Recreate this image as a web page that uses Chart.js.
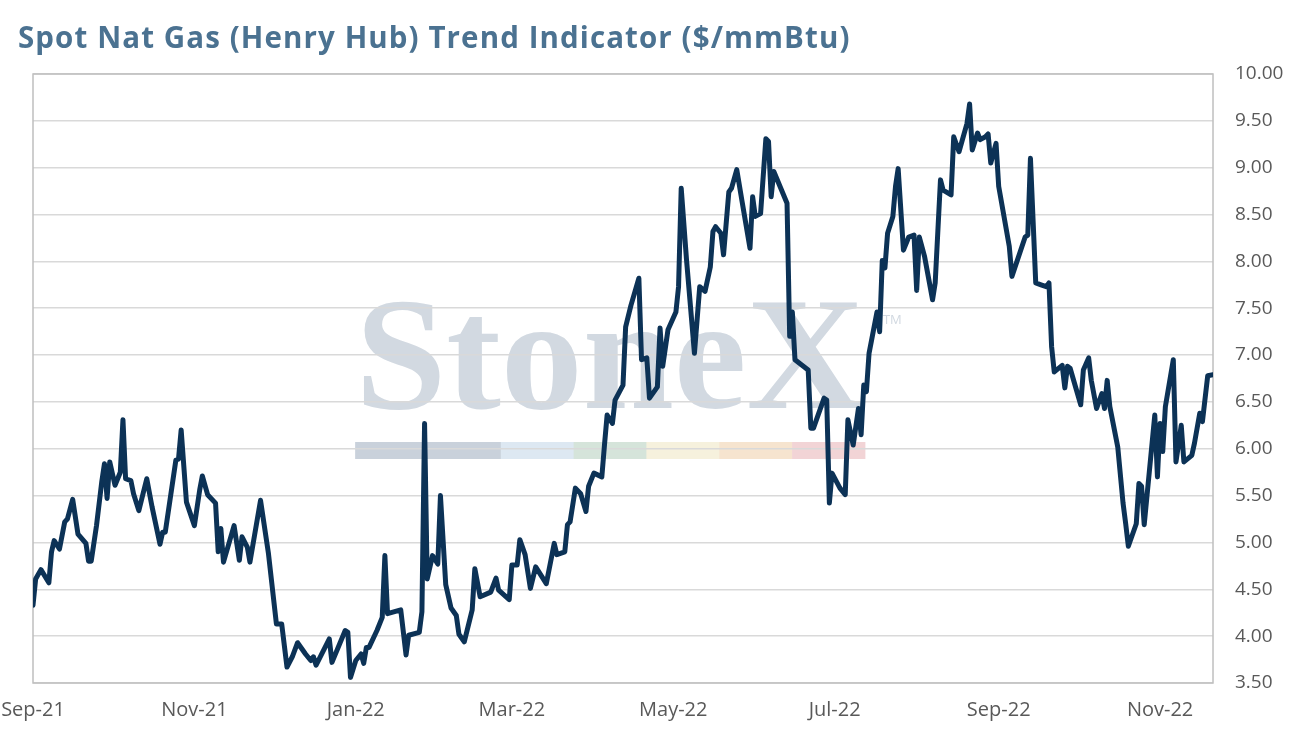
<!DOCTYPE html>
<html>
<head>
<meta charset="utf-8">
<script src="https://cdn.jsdelivr.net/npm/chart.js@4.4.1/dist/chart.umd.min.js"></script>
<style>
  body { margin: 0; background: #fff; }
  #wrap { position: relative; width: 1292px; height: 742px; }
  #title { position: absolute; left: 18px; top: 16px; font: bold 29.5px "Open Sans", sans-serif; letter-spacing: 1.1px; color: #4b7291; white-space: nowrap; }
</style>
</head>
<body>
<div id="wrap">
  <div id="title">Spot Nat Gas (Henry Hub) Trend Indicator ($/mmBtu)</div>
  <canvas id="chart" width="1292" height="742"></canvas>
</div>
<script>

// days counted from 1 Sep 2021, spot price in $/mmBtu
var days = [0,1,3,6,7,8,10,12,13,15,17,20,21,22,24,26,27,28,29,31,33,34,35,37,38,40,43,45,48,49,50,54,55,56,58,61,63,64,66,69,70,71,72,76,78,79,81,82,86,89,
	92,94,96,98,100,103,105,106,107,112,113,118,119,120,122,124,125,126,127,130,132,133,134,139,141,142,146,147,148,149,151,153,154,156,158,160,161,163,166,167,169,173,175,176,180,181,183,184,186,188,
	190,194,197,198,201,202,203,205,207,209,210,212,215,216,217,219,220,223,224,226,229,230,232,233,236,237,238,240,243,244,245,247,250,252,254,256,257,258,260,261,263,264,266,268,271,272,273,275,277,278,
	279,280,285,286,287,288,293,294,295,299,300,301,302,305,307,308,310,312,313,314,315,316,319,320,321,322,323,325,326,327,329,331,333,334,335,337,340,341,343,344,347,348,350,353,354,355,357,358,360,361,
	362,364,365,369,370,375,376,377,379,381,383,384,385,386,389,390,391,392,396,397,399,400,402,404,405,406,407,410,412,413,414,417,418,419,420,424,425,426,427,428,431,432,434,435,438,439,441,442,444,446];
var prices = [4.33,4.61,4.71,4.57,4.90,5.02,4.93,5.22,5.25,5.46,5.09,4.99,4.80,4.80,5.18,5.65,5.84,5.47,5.86,5.61,5.75,6.31,5.68,5.66,5.52,5.34,5.68,5.38,4.98,5.11,5.11,5.88,5.89,6.20,5.43,5.18,5.56,5.71,5.51,5.42,4.90,5.15,4.79,5.18,4.81,5.06,4.95,4.79,5.45,4.88,
	4.13,4.13,3.67,3.78,3.93,3.81,3.74,3.78,3.69,3.97,3.72,4.06,4.04,3.56,3.74,3.81,3.71,3.88,3.88,4.06,4.20,4.86,4.24,4.28,3.80,4.01,4.04,4.26,6.27,4.61,4.86,4.77,5.50,4.55,4.30,4.22,4.02,3.94,4.28,4.72,4.42,4.47,4.62,4.49,4.39,4.76,4.76,5.03,4.87,4.51,
	4.74,4.56,4.99,4.87,4.90,5.19,5.22,5.58,5.52,5.33,5.60,5.74,5.70,6.04,6.36,6.27,6.52,6.68,7.30,7.53,7.82,6.95,6.97,6.54,6.66,7.29,6.88,7.27,7.46,7.73,8.78,8.02,7.02,7.73,7.68,7.94,8.32,8.37,8.30,8.07,8.74,8.78,8.98,8.64,8.14,8.69,8.48,8.51,9.31,9.28,
	8.69,8.96,8.62,7.20,7.46,6.95,6.84,6.22,6.22,6.54,6.52,5.42,5.74,5.58,5.51,6.31,6.04,6.43,6.15,6.68,6.61,7.02,7.46,7.25,8.01,7.93,8.30,8.48,8.80,8.99,8.12,8.26,8.28,7.69,8.26,8.05,7.59,7.77,8.87,8.76,8.71,9.33,9.17,9.47,9.68,9.19,9.37,9.30,9.33,9.36,
	9.05,9.26,8.80,8.16,7.84,8.26,8.28,9.10,7.77,7.75,7.73,7.77,7.09,6.82,6.89,6.65,6.88,6.86,6.47,6.84,6.97,6.73,6.43,6.59,6.43,6.73,6.45,6.02,5.42,5.20,4.96,5.20,5.63,5.60,5.19,6.36,5.70,6.27,5.97,6.45,6.95,5.86,6.25,5.86,5.93,6.06,6.38,6.29,6.78,6.79];

// axis labels, placed at the first day of every second month
var tickDays = [0, 61, 122, 181, 242, 303, 365, 426];
var tickLabels = ['Sep-21', 'Nov-21', 'Jan-22', 'Mar-22', 'May-22', 'Jul-22', 'Sep-22', 'Nov-22'];
var lastDay = 446;

var points = days.map(function(d, i){ return {x: d, y: prices[i]}; });

// faint logo behind the grid
var watermark = {
	id: 'watermark',
	beforeDraw: function(c){
		var a = c.chartArea, ctx = c.ctx;
		var w = a.right - a.left;
		var x0 = a.left + w * 0.273, x1 = a.left + w * 0.705;
		ctx.save();
		ctx.font = 'bold 160px "Liberation Serif", serif';
		var tw = ctx.measureText('StoneX').width;
		ctx.fillStyle = '#d2d9e1';
		ctx.textBaseline = 'alphabetic';
		ctx.translate(x0, a.top + 334);
		ctx.scale((x1 - x0) / tw, 1);
		ctx.fillText('StoneX', 0, 0);
		ctx.restore();
		ctx.save();
		ctx.fillStyle = '#d2d9e1';
		ctx.font = '13px "Open Sans", sans-serif';
		ctx.fillText('TM', x1 + 18, a.top + 250);
		var cols = ['#c9d1db', '#dde8f2', '#d5e4da', '#f6f1dd', '#f6e4cf', '#f2d4d6'];
		var seg = (x1 - x0) / 7;
		var bx = x0;
		for (var i = 0; i < cols.length; i++) {
			var sw = i == 0 ? seg * 2 : seg;
			ctx.fillStyle = cols[i];
			ctx.fillRect(bx, a.top + 368, sw + 0.5, 17);
			bx += sw;
		}
		ctx.restore();
	},
	beforeDatasetsDraw: function(c){
		var a = c.chartArea, ctx = c.ctx;
		ctx.save();
		ctx.strokeStyle = '#bfbfbf';
		ctx.lineWidth = 1.5;
		ctx.strokeRect(a.left, a.top, a.right - a.left, a.bottom - a.top);
		ctx.restore();
	}
};

var ctx = document.getElementById('chart');
var chart = new Chart(ctx, {
	type: 'line',
	data: {
		datasets: [{
			data: points,
			borderColor: '#0c3256',
			borderWidth: 5,
			pointRadius: 0,
			tension: 0,
			borderJoinStyle: 'round',
			borderCapStyle: 'round'
		}]
	},
	options: {
		responsive: false,
		animation: false,
		layout: { padding: { top: 74, left: 0, right: 0, bottom: 0 } },
		plugins: { legend: { display: false }, tooltip: { enabled: false } },
		scales: {
			x: {
				type: 'linear',
				min: 0,
				max: lastDay,
				grid: { display: false, drawTicks: false },
				border: { display: false },
				afterBuildTicks: function(s){
					s.ticks = tickDays.map(function(d){ return {value: d}; });
				},
				afterFit: function(s){ s.height = 59; s.paddingLeft = 33; },
				ticks: {
					autoSkip: false,
					maxRotation: 0,
					padding: 15,
					color: '#595959',
					font: { family: 'Open Sans', size: 20 },
					callback: function(v){
						var k = tickDays.indexOf(v);
						return k < 0 ? '' : tickLabels[k];
					}
				}
			},
			y: {
				position: 'right',
				min: 3.5,
				max: 10,
				grid: { color: '#d9d9d9', lineWidth: 1.5, drawTicks: false },
				border: { display: false },
				afterFit: function(s){ s.width = 79; },
				ticks: {
					stepSize: 0.5,
					padding: 22,
					color: '#595959',
					font: { family: 'Open Sans', size: 19 },
					callback: function(v){ return v.toFixed(2); }
				}
			}
		}
	},
	plugins: [watermark]
});

</script>
</body>
</html>
